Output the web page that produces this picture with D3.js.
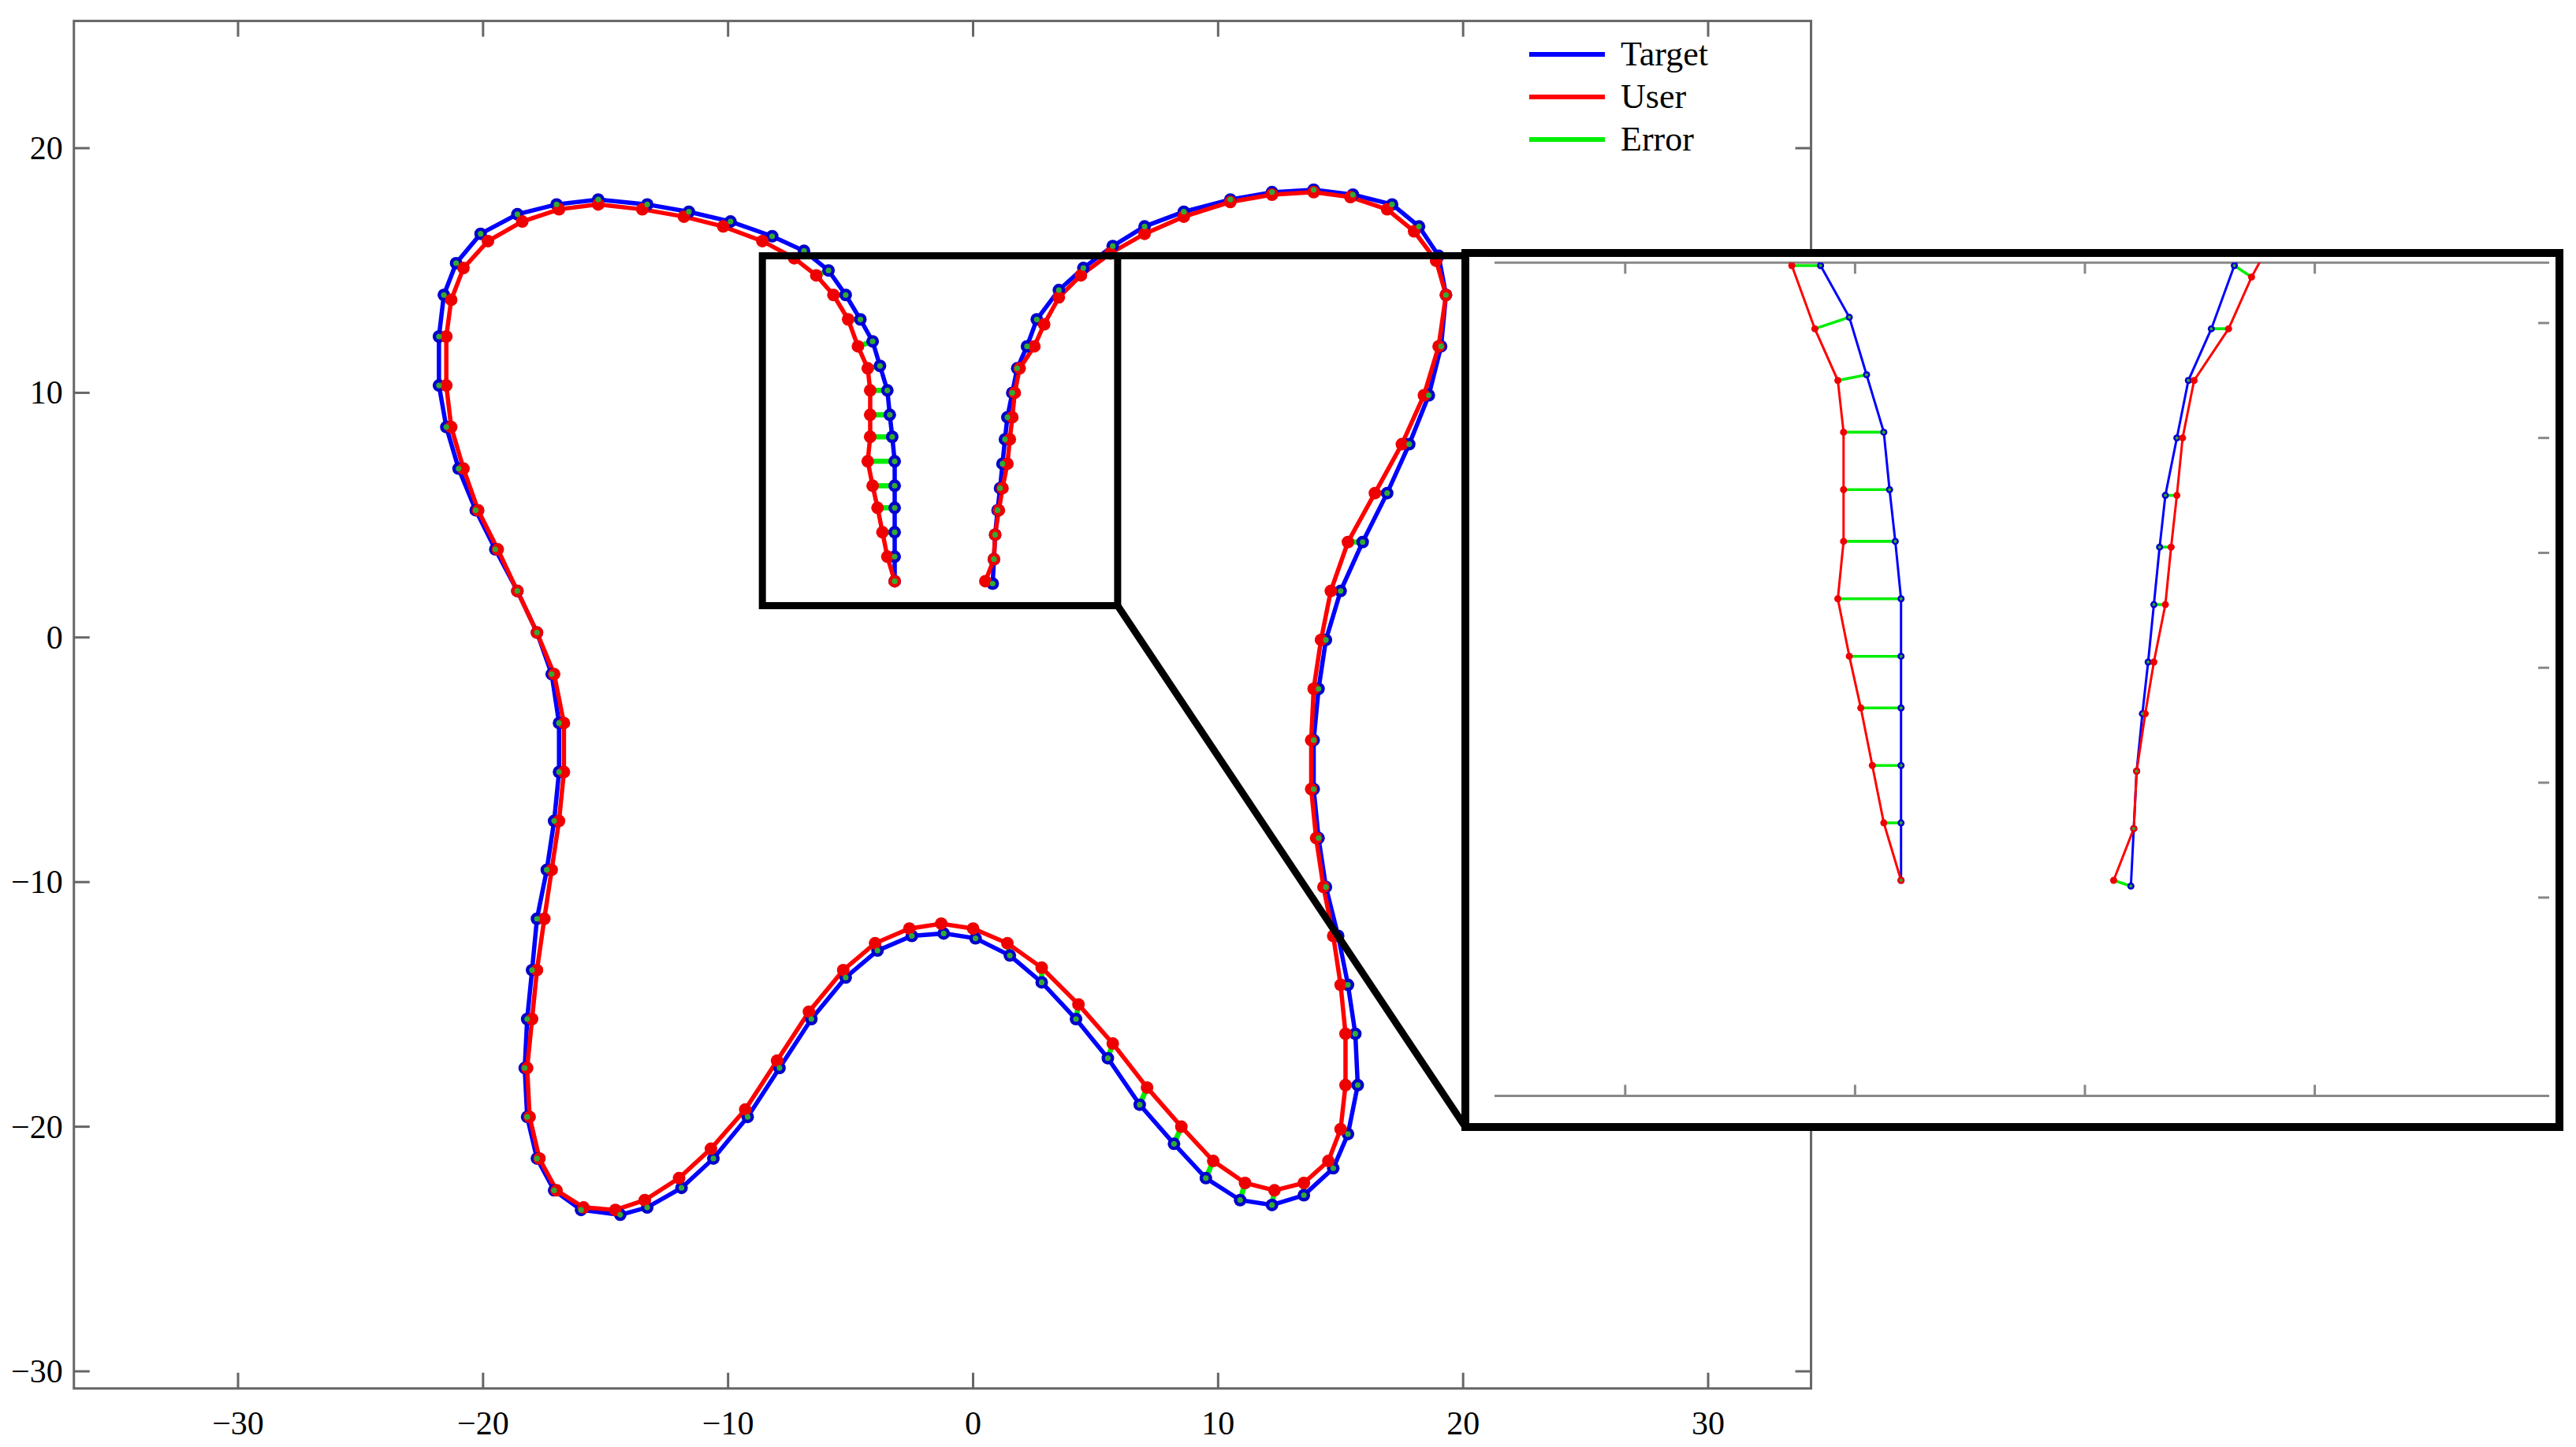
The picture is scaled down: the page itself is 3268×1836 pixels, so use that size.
<!DOCTYPE html>
<html><head><meta charset="utf-8">
<script src="https://cdn.jsdelivr.net/npm/d3@7"></script>
<style>body{margin:0;background:#fff}svg{display:block}</style></head>
<body><svg id="c" width="3268" height="1836"></svg>
<script>
const xTicks=[-30,-20,-10,0,10,20,30];
const yTicks=[-30,-20,-10,0,10,20];
const seriesNames=["Target","User","Error"];
const target=[[-3.2,2.3],[-3.2,3.3],[-3.2,4.3],[-3.2,5.3],[-3.2,6.2],[-3.2,7.2],[-3.3,8.2],[-3.4,9.1],[-3.5,10.1],[-3.8,11.1],[-4.1,12.1],[-4.6,13.0],[-5.2,14.0],[-5.9,15.0],[-6.9,15.8],[-8.2,16.4],[-9.9,17.0],[-11.6,17.4],[-13.3,17.7],[-15.3,17.9],[-17.0,17.7],[-18.6,17.3],[-20.1,16.5],[-21.1,15.3],[-21.6,14.0],[-21.8,12.3],[-21.8,10.3],[-21.5,8.6],[-21.0,6.9],[-20.3,5.2],[-19.5,3.6],[-18.6,1.9],[-17.8,0.2],[-17.2,-1.5],[-16.9,-3.5],[-16.9,-5.5],[-17.1,-7.5],[-17.4,-9.5],[-17.8,-11.5],[-18.0,-13.6],[-18.2,-15.6],[-18.3,-17.6],[-18.2,-19.6],[-17.8,-21.3],[-17.1,-22.6],[-16.0,-23.4],[-14.4,-23.6],[-13.3,-23.3],[-11.9,-22.5],[-10.6,-21.3],[-9.2,-19.6],[-7.9,-17.6],[-6.6,-15.6],[-5.2,-13.9],[-3.9,-12.8],[-2.5,-12.2],[-1.2,-12.1],[0.1,-12.3],[1.5,-13.0],[2.8,-14.1],[4.2,-15.6],[5.5,-17.2],[6.8,-19.1],[8.2,-20.7],[9.5,-22.1],[10.9,-23.0],[12.2,-23.2],[13.5,-22.8],[14.7,-21.7],[15.3,-20.3],[15.7,-18.3],[15.6,-16.2],[15.3,-14.2],[14.9,-12.2],[14.4,-10.2],[14.1,-8.2],[13.9,-6.2],[13.9,-4.2],[14.1,-2.1],[14.4,-0.1],[15.0,1.9],[15.9,3.9],[16.9,5.9],[17.8,7.9],[18.6,9.9],[19.1,11.9],[19.3,14.0],[19.0,15.6],[18.2,16.8],[17.1,17.7],[15.5,18.1],[13.9,18.3],[12.2,18.2],[10.5,17.9],[8.6,17.4],[7.0,16.8],[5.7,16.0],[4.5,15.1],[3.5,14.2],[2.6,13.0],[2.2,11.9],[1.8,11.0],[1.6,10.0],[1.4,9.0],[1.3,8.1],[1.2,7.1],[1.1,6.1],[1.0,5.2],[0.9,4.2],[0.85,3.2],[0.8,2.2]];
const user=[[-3.2,2.3],[-3.5,3.3],[-3.7,4.3],[-3.9,5.3],[-4.1,6.2],[-4.3,7.2],[-4.2,8.2],[-4.2,9.1],[-4.2,10.1],[-4.3,11.0],[-4.7,11.9],[-5.1,13.0],[-5.7,14.0],[-6.4,14.8],[-7.3,15.5],[-8.6,16.2],[-10.2,16.8],[-11.8,17.2],[-13.5,17.5],[-15.3,17.7],[-16.9,17.5],[-18.4,17.0],[-19.8,16.2],[-20.8,15.1],[-21.3,13.8],[-21.5,12.3],[-21.5,10.3],[-21.3,8.6],[-20.8,6.9],[-20.2,5.2],[-19.4,3.6],[-18.6,1.9],[-17.8,0.2],[-17.1,-1.5],[-16.7,-3.5],[-16.7,-5.5],[-16.9,-7.5],[-17.2,-9.5],[-17.5,-11.5],[-17.8,-13.6],[-18.0,-15.6],[-18.2,-17.6],[-18.1,-19.6],[-17.7,-21.3],[-17.0,-22.6],[-15.9,-23.3],[-14.6,-23.4],[-13.4,-23.0],[-12.0,-22.1],[-10.7,-20.9],[-9.3,-19.3],[-8.0,-17.3],[-6.7,-15.3],[-5.3,-13.6],[-4.0,-12.5],[-2.6,-11.9],[-1.3,-11.7],[0.0,-11.9],[1.4,-12.5],[2.8,-13.5],[4.3,-15.0],[5.7,-16.6],[7.1,-18.4],[8.5,-20.0],[9.8,-21.4],[11.1,-22.3],[12.3,-22.6],[13.5,-22.3],[14.5,-21.4],[15.0,-20.1],[15.2,-18.3],[15.2,-16.2],[15.0,-14.2],[14.7,-12.2],[14.3,-10.2],[14.0,-8.2],[13.8,-6.2],[13.8,-4.2],[13.9,-2.1],[14.2,-0.1],[14.6,1.9],[15.3,3.9],[16.4,5.9],[17.5,7.9],[18.4,9.9],[19.0,11.9],[19.3,14.0],[18.9,15.4],[18.0,16.6],[16.9,17.5],[15.4,18.0],[13.9,18.2],[12.2,18.1],[10.5,17.8],[8.6,17.2],[7.0,16.5],[5.6,15.7],[4.4,14.8],[3.5,13.9],[2.9,12.8],[2.5,11.9],[1.9,11.0],[1.7,10.0],[1.6,9.0],[1.5,8.1],[1.4,7.1],[1.2,6.1],[1.05,5.2],[0.9,4.2],[0.85,3.2],[0.5,2.3]];
const zoomRegion={x0:-8.6,x1:5.9,y0:1.3,y1:15.6};
const insetXTicks=[-8,-4,0,4];
const insetYTicks=[2,4,6,8,10,12];

const svg=d3.select("#c");
const font="'Liberation Serif','DejaVu Serif',serif";
const x=d3.scaleLinear().domain([-30,30]).range([302,2167]);
const y=d3.scaleLinear().domain([20,-30]).range([188,1740]);
const X0=x(-36.7),X1=x(34.2),Y0=y(25.2),Y1=y(-30.7);
const gray="#666";
svg.append("rect").attr("x",X0).attr("y",Y0).attr("width",X1-X0).attr("height",Y1-Y0).attr("fill","none").attr("stroke",gray).attr("stroke-width",3);
xTicks.forEach(t=>{
  svg.append("line").attr("x1",x(t)).attr("x2",x(t)).attr("y1",Y1).attr("y2",Y1-20).attr("stroke",gray).attr("stroke-width",3);
  svg.append("line").attr("x1",x(t)).attr("x2",x(t)).attr("y1",Y0).attr("y2",Y0+20).attr("stroke",gray).attr("stroke-width",3);
  svg.append("text").attr("x",x(t)).attr("y",Y1+58).attr("text-anchor","middle").attr("font-family",font).attr("font-size",42).text(t<0?"\u2212"+(-t):t);
});
yTicks.forEach(t=>{
  svg.append("line").attr("x1",X0).attr("x2",X0+20).attr("y1",y(t)).attr("y2",y(t)).attr("stroke",gray).attr("stroke-width",3);
  svg.append("line").attr("x1",X1).attr("x2",X1-20).attr("y1",y(t)).attr("y2",y(t)).attr("stroke",gray).attr("stroke-width",3);
  svg.append("text").attr("x",X0-14).attr("y",y(t)+14).attr("text-anchor","end").attr("font-family",font).attr("font-size",42).text(t<0?"\u2212"+(-t):t);
});

function drawShape(g,sx,sy,lw,r){
  const line=d3.line().x(d=>sx(d[0])).y(d=>sy(d[1]));
  g.append("path").attr("d",line(target)).attr("fill","none").attr("stroke","#0000ff").attr("stroke-width",lw);
  g.append("path").attr("d",line(user)).attr("fill","none").attr("stroke","#ff0000").attr("stroke-width",lw);
  const pairs=d3.zip(target,user);
  g.selectAll(null).data(pairs).join("line").attr("x1",d=>sx(d[0][0])).attr("y1",d=>sy(d[0][1])).attr("x2",d=>sx(d[1][0])).attr("y2",d=>sy(d[1][1])).attr("stroke","#00ee00").attr("stroke-width",lw*1.2);
  g.selectAll(null).data(target).join("circle").attr("cx",d=>sx(d[0])).attr("cy",d=>sy(d[1])).attr("r",r).attr("fill","#0000cc");
  g.selectAll(null).data(user).join("circle").attr("cx",d=>sx(d[0])).attr("cy",d=>sy(d[1])).attr("r",r).attr("fill","#ee0000");
  g.selectAll(null).data(pairs).join("circle").attr("cx",d=>sx(d[0][0])).attr("cy",d=>sy(d[0][1])).attr("r",r*0.45).attr("fill","#33aa33");
}
drawShape(svg.append("g"),x,y,5.5,8);

const lg=[["#0000ff","Target"],["#ff0000","User"],["#00ee00","Error"]];
lg.forEach((d,i)=>{
  const yy=69+i*54;
  svg.append("line").attr("x1",1940).attr("x2",2036).attr("y1",yy).attr("y2",yy).attr("stroke",d[0]).attr("stroke-width",6);
  svg.append("text").attr("x",2056).attr("y",yy+14).attr("font-family",font).attr("font-size",44).text(seriesNames[i]);
});

const zx0=x(zoomRegion.x0),zx1=x(zoomRegion.x1),zy0=y(zoomRegion.y1),zy1=y(zoomRegion.y0);
const IX0=1859,IX1=3247,IY0=321,IY1=1430;
svg.append("rect").attr("x",zx0).attr("y",zy0).attr("width",zx1-zx0).attr("height",zy1-zy0).attr("fill","none").attr("stroke","#000").attr("stroke-width",9);
svg.append("line").attr("x1",zx1).attr("y1",zy0).attr("x2",IX0).attr("y2",zy0).attr("stroke","#000").attr("stroke-width",9);
svg.append("line").attr("x1",zx1).attr("y1",zy1).attr("x2",IX0).attr("y2",IY1).attr("stroke","#000").attr("stroke-width",9);

svg.append("rect").attr("x",IX0).attr("y",IY0).attr("width",IX1-IX0).attr("height",IY1-IY0).attr("fill","#fff").attr("stroke","#000").attr("stroke-width",10);
const ix=d3.scaleLinear().domain([0,4]).range([2645,2645+4*72.9]);
const iy=d3.scaleLinear().domain([2.3,6.3]).range([1117,1117-4*72.9]);
const gt=iy(13.05),gb=iy(-1.45),gl=1896,gr=3234;
svg.append("defs").append("clipPath").attr("id","ic").append("rect").attr("x",gl).attr("y",gt).attr("width",gr-gl).attr("height",gb-gt);
[gt,gb].forEach(yy=>svg.append("line").attr("x1",gl).attr("x2",gr).attr("y1",yy).attr("y2",yy).attr("stroke","#888").attr("stroke-width",3));
insetXTicks.forEach(t=>{
  svg.append("line").attr("x1",ix(t)).attr("x2",ix(t)).attr("y1",gt).attr("y2",gt+14).attr("stroke","#888").attr("stroke-width",3);
  svg.append("line").attr("x1",ix(t)).attr("x2",ix(t)).attr("y1",gb).attr("y2",gb-14).attr("stroke","#888").attr("stroke-width",3);
});
insetYTicks.forEach(t=>svg.append("line").attr("x1",gr).attr("x2",gr-14).attr("y1",iy(t)).attr("y2",iy(t)).attr("stroke","#888").attr("stroke-width",3));
drawShape(svg.append("g").attr("clip-path","url(#ic)"),ix,iy,3,4.5);
</script></body></html>
